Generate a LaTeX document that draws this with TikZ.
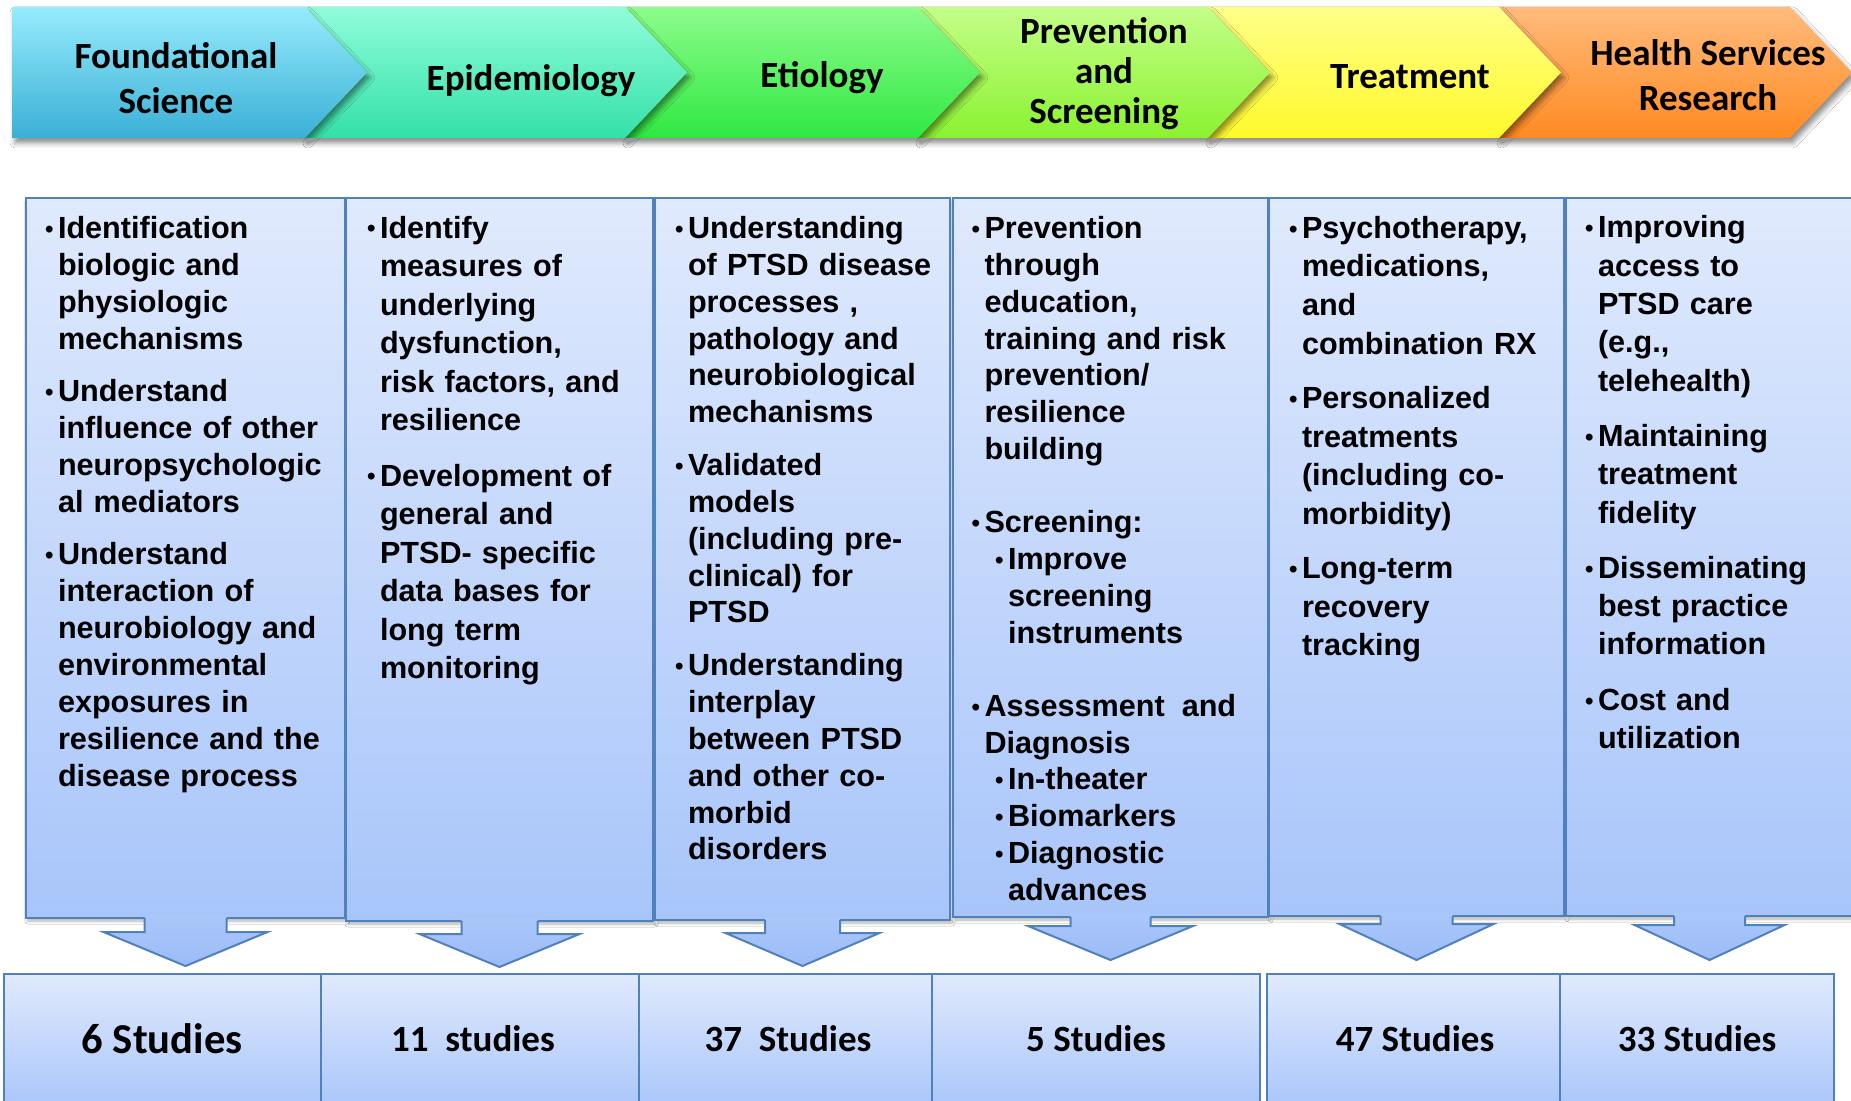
\documentclass[tikz,border=0pt]{standalone}
\usepackage{fontspec}
\setmainfont{Liberation Sans}
\newfontfamily\calib{Carlito}
\usetikzlibrary{calc,shadows.blur}

\definecolor{bordc}{HTML}{4F81BD}
\definecolor{boxT}{HTML}{E0EAFD}
\definecolor{boxB}{HTML}{A8C5FA}
\definecolor{arrT}{HTML}{AAC7FA}
\definecolor{arrB}{HTML}{9CBCF7}
\definecolor{fsT}{HTML}{96EBFC}
\definecolor{fsB}{HTML}{3AB0D6}
\definecolor{epT}{HTML}{90FDDA}
\definecolor{epB}{HTML}{33E0A8}
\definecolor{etT}{HTML}{8DFC8B}
\definecolor{etB}{HTML}{2FE842}
\definecolor{prT}{HTML}{C4FE89}
\definecolor{prB}{HTML}{8AF230}
\definecolor{trT}{HTML}{FFFF88}
\definecolor{trB}{HTML}{FFF92B}
\definecolor{hsT}{HTML}{FFBB7C}
\definecolor{hsB}{HTML}{FF8A22}

\newcommand{\bul}{\makebox[6.5pt][l]{\raisebox{0.6pt}{\fontsize{12}{12}\selectfont •}}}
\newcommand{\itm}[1]{\par\hangindent=6.5pt\hangafter=1\noindent\rule{0pt}{12pt}\bul#1\par}
\newcommand{\sitm}[1]{\par\hangindent=18.25pt\hangafter=1\noindent\rule{0pt}{12pt}\hspace*{11.75pt}\bul#1\par}
\newcommand{\gap}[1]{\vspace{#1}}

\tikzset{
  chevsh/.style={blur shadow={shadow xshift=1.5pt, shadow yshift=-2.5pt, shadow blur radius=2.5pt, shadow opacity=45}},
  chevtext/.style={inner sep=0, align=center, text=black, font=\calib\bfseries\fontsize{18.5}{22.5}\selectfont},
  colbox/.style={draw=bordc, line width=1pt, inner sep=0, outer sep=0, top color=boxT, bottom color=boxB,
    blur shadow={shadow xshift=1pt, shadow yshift=-1.5pt, shadow blur radius=1.5pt, shadow opacity=30}},
  sumbox/.style={draw=bordc, line width=1pt, inner sep=0, outer sep=0, top color=boxT, bottom color=boxB},
  coltext/.style={anchor=north west, inner sep=0, outer sep=0, text width=180pt, align=left},
  sumtext/.style={anchor=base, inner sep=0, font=\calib\bfseries\fontsize{18.5}{22}\selectfont},
  arrline/.style={draw=bordc, line width=1pt, line join=miter},
}

\newcommand{\chevron}[4]{%
  \path[chevsh, top color=#3, bottom color=#4] (#1,7) -- (#2,7) -- ({#2+62},72.5) -- (#2,138) -- (#1,138) -- ({#1+62},72.5) -- cycle;}

\newcommand{\barrow}[5]{%
  \path[top color=arrT, bottom color=arrB] ($(#1.south)+(-#2,-3)$) -- ($(#1.south)+(-#2,#4)$) -- ($(#1.south)+(-#3,#4)$) -- ($(#1.south)+(0,#5)$) -- ($(#1.south)+(#3,#4)$) -- ($(#1.south)+(#2,#4)$) -- ($(#1.south)+(#2,-3)$) -- cycle;
  \draw[arrline] ($(#1.south)+(-#2,0)$) -- ($(#1.south)+(-#2,#4)$) -- ($(#1.south)+(-#3,#4)$) -- ($(#1.south)+(0,#5)$) -- ($(#1.south)+(#3,#4)$) -- ($(#1.south)+(#2,#4)$) -- ($(#1.south)+(#2,0)$);}

\begin{document}
\begin{tikzpicture}[x=0.5pt, y=-0.5pt]
\path[use as bounding box, fill=white] (0,0) rectangle (1851,1101);
\clip (0,0) rectangle (1851,1101);

% ---- top chevrons (drawn right to left so shadows fall on the next one)
\chevron{1499}{1790}{hsT}{hsB}
\chevron{1208}{1499}{trT}{trB}
\chevron{918}{1208}{prT}{prB}
\chevron{625}{918}{etT}{etB}
\chevron{305}{625}{epT}{epB}
\path[chevsh, top color=fsT, bottom color=fsB] (12,7) -- (305,7) -- (367,72.5) -- (305,138) -- (12,138) -- cycle;

\node[chevtext] (hFS) at (176,78) {Foundational\\Science};
\node[chevtext] (hEP) at (531,81) {Epidemiology};
\node[chevtext] (hET) at (822,78) {Etiology};
\node[chevtext, font=\calib\bfseries\fontsize{18.5}{20}\selectfont] (hPR) at (1104,73.5) {Prevention\\and\\Screening};
\node[chevtext] (hTR) at (1410,77) {Treatment};
\node[chevtext] (hHS) at (1708,75) {Health Services\\Research};

% ---- bottom summary boxes
\node[sumbox, minimum width=158.5pt, minimum height=68pt] (s1) at (162.5,1042) {};
\node[sumbox, minimum width=159pt, minimum height=68pt] (s2) at (480,1042) {};
\node[sumbox, minimum width=146.5pt, minimum height=68pt] (s3) at (785.5,1042) {};
\node[sumbox, minimum width=164pt, minimum height=68pt] (s4) at (1096,1042) {};
\node[sumbox, minimum width=146.5pt, minimum height=68pt] (s5) at (1413.5,1042) {};
\node[sumbox, minimum width=137pt, minimum height=68pt] (s6) at (1697,1042) {};

\node[sumtext, font=\calib\bfseries\fontsize{21.3}{24}\selectfont] (n1) at (162,1053) {6 Studies};
\node[sumtext] (n2) at (473,1051) {11\ \ studies};
\node[sumtext] (n3) at (788,1051) {37\ \ Studies};
\node[sumtext] (n4) at (1096,1051) {5 Studies};
\node[sumtext] (n5) at (1415,1051) {47 Studies};
\node[sumtext] (n6) at (1697,1051) {33 Studies};

% ---- column boxes
\node[colbox, minimum width=159.5pt, minimum height=360pt] (c1) at (185.5,558) {};
\node[colbox, minimum width=153.5pt, minimum height=361.5pt] (c2) at (499.5,559.5) {};
\node[colbox, minimum width=147.5pt, minimum height=361pt] (c3) at (802.5,559) {};
\node[colbox, minimum width=157.5pt, minimum height=359.5pt] (c4) at (1110.5,557.5) {};
\node[colbox, minimum width=147.5pt, minimum height=359pt] (c5) at (1416.5,557) {};
\node[colbox, minimum width=143.5pt, minimum height=359pt] (c6) at (1709.5,557) {};

% ---- block arrows from columns to summaries
\barrow{c1}{41}{82}{14}{48}
\barrow{c2}{38}{80}{13}{46}
\barrow{c3}{37.5}{77}{13}{46}
\barrow{c4}{40}{82.5}{9}{43}
\barrow{c5}{36}{77}{8}{44}
\barrow{c6}{35.5}{75}{9}{44}

% ---- column texts
\node[coltext, font=\bfseries\fontsize{15.3}{18.5}\selectfont] (x1) at (45,202) {%
\itm{Identification\newline biologic and\newline physiologic\newline mechanisms}
\gap{7.5pt}
\itm{Understand\newline influence of other\newline neuropsychologic\newline al mediators}
\gap{7.5pt}
\itm{Understand\newline interaction of\newline neurobiology and\newline environmental\newline exposures in\newline resilience and the\newline disease process}};

\node[coltext, font=\bfseries\fontsize{15.3}{19.25}\selectfont] (x2) at (367,199.7) {%
\itm{Identify\newline measures of\newline underlying\newline dysfunction,\newline risk factors, and\newline resilience}
\gap{8.5pt}
\itm{Development of\newline general and\newline PTSD- specific\newline data bases for\newline long term\newline monitoring}};

\node[coltext, font=\bfseries\fontsize{15.3}{18.4}\selectfont] (x3) at (675,202) {%
\itm{Understanding\newline of PTSD disease\newline processes ,\newline pathology and\newline neurobiological\newline mechanisms}
\gap{8.1pt}
\itm{Validated\newline models\newline (including pre-\newline clinical) for\newline PTSD}
\gap{8.1pt}
\itm{Understanding\newline interplay\newline between PTSD\newline and other co-\newline morbid\newline disorders}};

\node[coltext, font=\bfseries\fontsize{15.3}{18.4}\selectfont] (x4) at (971.5,202) {%
\itm{Prevention\newline through\newline education,\newline training and risk\newline prevention/\newline resilience\newline building}
\gap{18.2pt}
\itm{Screening:}
\sitm{Improve\newline screening\newline instruments}
\gap{18.2pt}
\itm{Assessment\hspace{8.5pt}and\newline Diagnosis}
\sitm{In-theater}
\sitm{Biomarkers}
\sitm{Diagnostic\newline advances}};

\node[coltext, font=\bfseries\fontsize{15.3}{19.3}\selectfont] (x5) at (1289,199.7) {%
\itm{Psychotherapy,\newline medications,\newline and\newline combination RX}
\gap{7.9pt}
\itm{Personalized\newline treatments\newline (including co-\newline morbidity)}
\gap{7.9pt}
\itm{Long-term\newline recovery\newline tracking}};

\node[coltext, font=\bfseries\fontsize{15.3}{19.15}\selectfont] (x6) at (1585,199.7) {%
\itm{Improving\newline access to\newline PTSD care\newline (e.g.,\newline telehealth)}
\gap{8.5pt}
\itm{Maintaining\newline treatment\newline fidelity}
\gap{8.5pt}
\itm{Disseminating\newline best practice\newline information}
\gap{8.5pt}
\itm{Cost and\newline utilization}};
\end{tikzpicture}
\end{document}
